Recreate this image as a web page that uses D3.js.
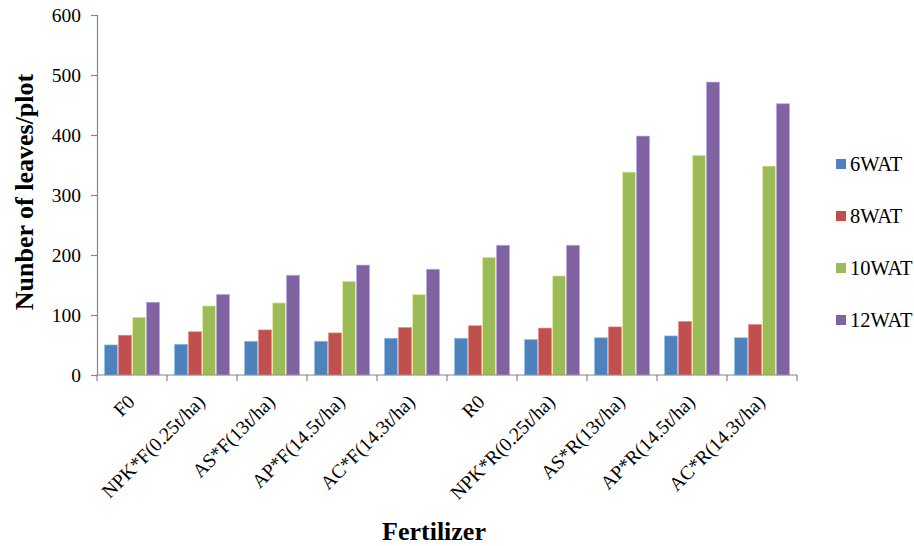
<!DOCTYPE html>
<html>
<head>
<meta charset="utf-8">
<script src="https://cdn.jsdelivr.net/npm/d3@7/dist/d3.min.js"></script>
<style>
  html, body { margin: 0; padding: 0; background: #fff; }
  svg { display: block; font-family: "Liberation Serif", "Times New Roman", serif; }
</style>
</head>
<body>
<svg id="chart" width="914" height="546"></svg>
<script>
// Treatments along the x axis
const categories = [
  "F0", "NPK*F(0.25t/ha)", "AS*F(13t/ha)", "AP*F(14.5t/ha)", "AC*F(14.3t/ha)",
  "R0", "NPK*R(0.25t/ha)", "AS*R(13t/ha)", "AP*R(14.5t/ha)", "AC*R(14.3t/ha)"
];

// Sampling times (weeks after transplanting)
const seriesNames = ["6WAT", "8WAT", "10WAT", "12WAT"];

// Number of leaves per plot at each sampling time
const wat6  = [51, 52, 57, 57, 62, 62, 60, 63, 66, 63];
const wat8  = [67, 73, 76, 71, 80, 83, 79, 81, 90, 85];
const wat10 = [97, 116, 121, 157, 135, 197, 166, 339, 367, 349];
const wat12 = [122, 135, 167, 184, 177, 217, 217, 399, 489, 453];

const yTicks = [0, 100, 200, 300, 400, 500, 600];

const seriesValues = [wat6, wat8, wat10, wat12];
const colors = ["#4F81BD", "#C0504D", "#9BBB59", "#8064A2"];

const labelSize = "19.5px";

const svg = d3.select("#chart");
const plot = { left: 97, right: 797, top: 15, bottom: 375 };

const x0 = d3.scaleBand()
  .domain(categories)
  .range([plot.left, plot.right])
  .paddingInner(0.2)
  .paddingOuter(0.1);

const x1 = d3.scaleBand()
  .domain(seriesNames)
  .range([0, x0.bandwidth()]);

const y = d3.scaleLinear()
  .domain([0, 600])
  .range([plot.bottom, plot.top]);

const color = d3.scaleOrdinal().domain(seriesNames).range(colors);

// Bars
const rows = categories.map((c, i) => ({
  category: c,
  values: seriesNames.map((s, k) => ({ series: s, value: seriesValues[k][i] }))
}));

const groups = svg.append("g")
  .selectAll("g")
  .data(rows)
  .join("g")
  .attr("transform", d => `translate(${x0(d.category)},0)`);

groups.selectAll("rect")
  .data(d => d.values)
  .join("rect")
  .attr("x", d => x1(d.series) + 0.5)
  .attr("y", d => y(d.value) + 0.5)
  .attr("width", x1.bandwidth() - 1)
  .attr("height", d => y(0) - y(d.value) - 0.5)
  .attr("fill", d => color(d.series))
  .attr("stroke", d => d3.color(color(d.series)).brighter(1.2))
  .attr("stroke-opacity", 0.55)
  .attr("stroke-width", 1);

// Y axis
const axisColor = "#868686";
const yAxis = svg.append("g")
  .attr("transform", `translate(${plot.left},0)`)
  .call(d3.axisLeft(y).tickValues(yTicks).tickSize(6).tickPadding(10).tickFormat(d3.format("d")));
yAxis.select(".domain").attr("stroke", axisColor).attr("stroke-width", 1.2);
yAxis.selectAll(".tick line").attr("stroke", axisColor).attr("stroke-width", 1.2);
yAxis.selectAll(".tick text")
  .attr("fill", "#000")
  .style("font-size", labelSize)
  .style("font-family", "'Liberation Serif', serif");

// X axis line with ticks at category boundaries
const step = x0.step();
const half = step * x0.paddingInner() / 2;
const boundaries = categories.map(c => x0(c) - half).concat([x0(categories[categories.length - 1]) + x0.bandwidth() + half]);

svg.append("line")
  .attr("x1", plot.left).attr("x2", plot.right)
  .attr("y1", plot.bottom).attr("y2", plot.bottom)
  .attr("stroke", axisColor).attr("stroke-width", 1.2);

svg.append("g")
  .selectAll("line")
  .data(boundaries)
  .join("line")
  .attr("x1", d => d).attr("x2", d => d)
  .attr("y1", plot.bottom).attr("y2", plot.bottom + 6)
  .attr("stroke", axisColor).attr("stroke-width", 1.2);

// Rotated category labels
svg.append("g")
  .selectAll("text")
  .data(categories)
  .join("text")
  .attr("transform", d => `translate(${x0(d) + x0.bandwidth() / 2 + 4},${plot.bottom + 28}) rotate(-45)`)
  .attr("text-anchor", "end")
  .style("font-size", labelSize)
  .attr("fill", "#000")
  .text(d => d);

// Axis titles
svg.append("text")
  .attr("x", (plot.left + plot.right) / 2 - 13)
  .attr("y", 540)
  .attr("text-anchor", "middle")
  .style("font-size", "26px")
  .style("font-weight", "bold")
  .text("Fertilizer");

svg.append("text")
  .attr("transform", `translate(33,${192}) rotate(-90)`)
  .attr("text-anchor", "middle")
  .style("font-size", "26px")
  .style("font-weight", "bold")
  .text("Nunber of leaves/plot");

// Legend
const legend = svg.append("g")
  .selectAll("g")
  .data(seriesNames)
  .join("g")
  .attr("transform", (d, i) => `translate(836,${164 + i * 52})`);

legend.append("rect")
  .attr("x", 0).attr("y", -5)
  .attr("width", 10).attr("height", 10)
  .attr("fill", d => color(d));

legend.append("text")
  .attr("x", 14).attr("y", 7)
  .style("font-size", "20.5px")
  .attr("fill", "#000")
  .text(d => d);
</script>
</body>
</html>
